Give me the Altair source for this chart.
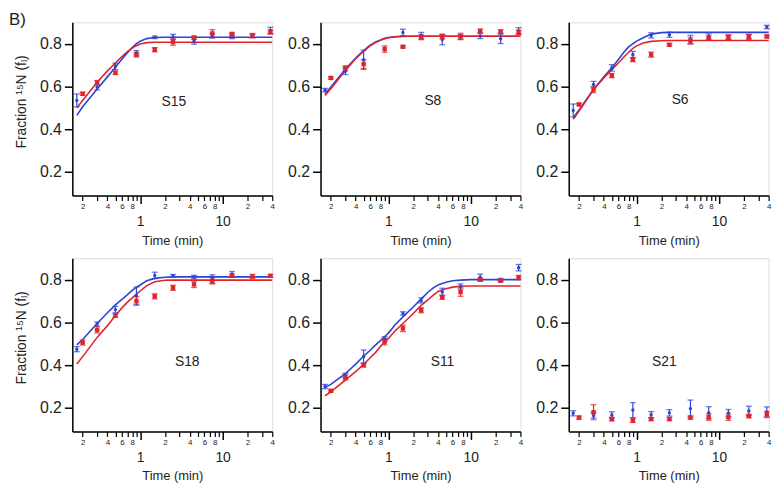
import altair as alt
import pandas as pd

BLUE = "#2b44d6"
RED = "#e0242c"
FONT = "Liberation Sans"

# ---------------- data ----------------
T_BLUE = [0.17, 0.3, 0.5, 0.9, 1.5, 2.5, 4.5, 7.5, 13, 23, 38]
T_RED = [0.2, 0.3, 0.5, 0.9, 1.5, 2.5, 4.5, 7.5, 13, 23, 38]
T_FIT = [0.17, 0.2, 0.3, 0.4, 0.5, 0.6, 0.7, 0.8, 0.9, 1.0, 1.2, 1.5, 2, 2.5, 3, 3.5, 4, 5, 6, 7.5, 10, 20, 40]

S15_BLUE = [0.535, 0.596, 0.694, 0.758, 0.830, 0.832, 0.813, 0.836, 0.834, 0.836, 0.862]
S15_BLUE_ERR = [0.03, 0.012, 0.015, 0.01, 0.006, 0.012, 0.015, 0.01, 0.01, 0.008, 0.015]
S15_RED = [0.566, 0.618, 0.664, 0.748, 0.772, 0.808, 0.828, 0.848, 0.845, 0.838, 0.855]
S15_RED_ERR = [0.007, 0.01, 0.008, 0.01, 0.01, 0.015, 0.008, 0.018, 0.008, 0.01, 0.01]
S15_FIT_BLUE = [0.465, 0.505, 0.588, 0.645, 0.69, 0.728, 0.758, 0.782, 0.800, 0.812, 0.824, 0.829, 0.83, 0.83, 0.83, 0.83, 0.83, 0.83, 0.83, 0.83, 0.83, 0.83, 0.83]
S15_FIT_RED = [0.50, 0.535, 0.62, 0.673, 0.71, 0.74, 0.763, 0.78, 0.791, 0.799, 0.805, 0.807, 0.807, 0.807, 0.807, 0.807, 0.807, 0.807, 0.807, 0.807, 0.807, 0.807, 0.807]

S8_BLUE = [0.583, 0.671, 0.725, None, 0.853, 0.838, 0.82, 0.832, 0.836, 0.823, 0.86]
S8_BLUE_ERR = [0.008, 0.015, 0.045, None, 0.015, 0.015, 0.025, 0.01, 0.012, 0.022, 0.015]
S8_RED = [0.640, 0.685, 0.705, 0.775, 0.786, 0.831, 0.833, 0.834, 0.86, 0.857, 0.853]
S8_RED_ERR = [0.006, 0.012, 0.02, 0.015, 0.005, 0.012, 0.01, 0.015, 0.008, 0.008, 0.01]
S8_FIT_BLUE = [0.565, 0.597, 0.68, 0.733, 0.768, 0.793, 0.808, 0.818, 0.825, 0.829, 0.833, 0.835, 0.835, 0.835, 0.835, 0.835, 0.835, 0.835, 0.835, 0.835, 0.835, 0.835, 0.835]
S8_FIT_RED = [0.558, 0.59, 0.675, 0.73, 0.765, 0.79, 0.806, 0.816, 0.823, 0.828, 0.832, 0.834, 0.835, 0.835, 0.835, 0.835, 0.835, 0.835, 0.835, 0.835, 0.835, 0.835, 0.835]

S6_BLUE = [0.488, 0.609, 0.687, 0.749, 0.839, 0.842, 0.819, 0.834, 0.831, 0.834, 0.878]
S6_BLUE_ERR = [0.03, 0.015, 0.015, 0.015, 0.012, 0.012, 0.02, 0.012, 0.01, 0.01, 0.008]
S6_RED = [0.516, 0.586, 0.651, 0.726, 0.749, 0.795, 0.814, 0.826, 0.831, 0.831, 0.834]
S6_RED_ERR = [0.005, 0.015, 0.01, 0.01, 0.012, 0.006, 0.015, 0.01, 0.01, 0.012, 0.006]
S6_FIT_BLUE = [0.454, 0.49, 0.586, 0.645, 0.687, 0.726, 0.76, 0.785, 0.80, 0.812, 0.828, 0.845, 0.852, 0.853, 0.853, 0.853, 0.853, 0.853, 0.853, 0.853, 0.853, 0.853, 0.853]
S6_FIT_RED = [0.446, 0.485, 0.586, 0.64, 0.679, 0.71, 0.738, 0.76, 0.778, 0.79, 0.803, 0.811, 0.814, 0.815, 0.815, 0.815, 0.815, 0.815, 0.815, 0.815, 0.815, 0.815, 0.815]

S18_BLUE = [0.475, 0.592, 0.66, 0.725, 0.82, 0.818, 0.812, 0.803, 0.826, None, None]
S18_BLUE_ERR = [0.012, 0.01, 0.015, 0.04, 0.015, 0.006, 0.008, 0.02, 0.012, None, None]
S18_RED = [0.506, 0.565, 0.632, 0.70, 0.722, 0.762, 0.778, 0.795, 0.818, 0.815, 0.818]
S18_RED_ERR = [0.012, 0.015, 0.008, 0.02, 0.012, 0.012, 0.015, 0.015, 0.008, 0.01, 0.006]
S18_FIT_BLUE = [0.495, 0.52, 0.595, 0.645, 0.682, 0.708, 0.73, 0.75, 0.765, 0.775, 0.795, 0.806, 0.811, 0.813, 0.813, 0.813, 0.813, 0.813, 0.813, 0.813, 0.813, 0.813, 0.813]
S18_FIT_RED = [0.406, 0.44, 0.53, 0.585, 0.632, 0.668, 0.695, 0.715, 0.732, 0.747, 0.772, 0.79, 0.797, 0.798, 0.798, 0.798, 0.798, 0.798, 0.798, 0.798, 0.798, 0.798, 0.798]

S11_BLUE = [0.30, 0.352, 0.441, 0.523, 0.642, 0.703, 0.742, 0.768, 0.811, 0.80, 0.856]
S11_BLUE_ERR = [0.01, 0.01, 0.03, 0.01, 0.008, 0.012, 0.018, 0.012, 0.015, 0.006, 0.015]
S11_RED = [0.28, 0.342, 0.40, 0.51, 0.572, 0.657, 0.718, 0.742, 0.80, 0.795, 0.81]
S11_RED_ERR = [0.006, 0.012, 0.008, 0.015, 0.015, 0.012, 0.01, 0.02, 0.008, 0.005, 0.01]
S11_FIT_BLUE = [0.295, 0.31, 0.36, 0.405, 0.442, 0.47, 0.495, 0.515, 0.534, 0.55, 0.588, 0.626, 0.672, 0.71, 0.74, 0.762, 0.775, 0.788, 0.795, 0.798, 0.80, 0.80, 0.80]
S11_FIT_RED = [0.257, 0.275, 0.33, 0.37, 0.403, 0.435, 0.46, 0.487, 0.51, 0.525, 0.56, 0.595, 0.642, 0.68, 0.705, 0.728, 0.745, 0.758, 0.765, 0.769, 0.77, 0.77, 0.77]

S21_BLUE = [0.175, 0.165, 0.167, 0.19, 0.168, 0.177, 0.197, 0.178, 0.176, 0.186, 0.18]
S21_BLUE_ERR = [0.012, 0.012, 0.015, 0.035, 0.015, 0.015, 0.04, 0.028, 0.017, 0.022, 0.025]
S21_RED = [0.155, 0.18, 0.148, 0.142, 0.148, 0.148, 0.155, 0.157, 0.157, 0.162, 0.172]
S21_RED_ERR = [0.007, 0.035, 0.008, 0.01, 0.007, 0.007, 0.008, 0.015, 0.015, 0.008, 0.012]

PANEL_NAMES = ["S15", "S8", "S6", "S18", "S11", "S21"]
LABEL_T = [2.56, 3.46, 3.37, 3.72, 4.53, 2.17]
LABEL_V = [0.526, 0.532, 0.537, 0.417, 0.417, 0.417]

MINOR_TICKS = [0.2, 0.3, 0.4, 0.5, 0.6, 0.7, 0.8, 0.9, 2, 3, 4, 5, 6, 7, 8, 9, 20, 30, 40]
MAJOR_TICKS = [1, 10]
Y_TICKS = [0.2, 0.4, 0.6, 0.8]
Y_TITLE = "Fraction ¹⁵N (fₗ)"

W, H = 202, 175

xscale = alt.Scale(type="log", domain=[0.15, 40], nice=False)
yscale = alt.Scale(domain=[0.09, 0.9], nice=False, zero=False)
cscale = alt.Scale(domain=["b", "r"], range=[BLUE, RED])

MANT = "(datum.value < 1 ? round(datum.value*10) : datum.value < 10 ? round(datum.value) : round(datum.value/10))"
minor_axis = alt.Axis(
    values=MINOR_TICKS, orient="bottom", labelExpr=f"{MANT} % 2 == 0 ? '' + {MANT} : ''",
    tickSize=5, tickWidth=1.2, labelFontSize=8, labelPadding=2, title=None, grid=False,
    domain=True, domainWidth=1.5, domainColor="black", tickColor="black",
    labelOverlap=False, labelFlush=False, labelColor="#222",
)
major_axis = alt.Axis(
    values=MAJOR_TICKS, orient="bottom", labelExpr="datum.value == 1 ? '1' : '10'",
    tickSize=8, tickWidth=1.5, labelFontSize=14, labelPadding=11, title="Time (min)",
    titleFontSize=13, titleFontWeight="normal", titlePadding=6, grid=False,
    domain=False, tickColor="black", labelOverlap=False, labelFlush=False, labelColor="#222",
)


def y_axis(left):
    kw = dict(values=Y_TICKS, format=".1f", tickSize=8, tickWidth=1.5, labelFontSize=16,
              labelPadding=3, grid=False, domainWidth=1.5, domainColor="black", tickColor="black",
              minExtent=36, maxExtent=36, labelColor="#222")
    if left:
        kw.update(title=Y_TITLE, titleFontSize=14, titleFontWeight="normal", titlePadding=8,
                  titleY=80, titleAlign="center")
    else:
        kw.update(title=None)
    return alt.Axis(**kw)


def panel(i, blue, blue_err, red, red_err, fit_blue, fit_red):
    left = i % 3 == 0
    yax = y_axis(left)
    rows = []
    for t, v, e in zip(T_BLUE, blue, blue_err):
        if v is not None:
            rows.append({"t": t, "v": v, "lo": v - e, "hi": v + e, "s": "b"})
    for t, v, e in zip(T_RED, red, red_err):
        if v is not None:
            rows.append({"t": t, "v": v, "lo": v - e, "hi": v + e, "s": "r"})
    pts = pd.DataFrame(rows)

    col = alt.Color("s:N", scale=cscale, legend=None)
    xn = alt.X("t:Q", scale=xscale, axis=None)

    layers = []
    # carrier of the major x axis
    layers.append(alt.Chart(pts).mark_point(opacity=0).encode(
        x=alt.X("t:Q", scale=xscale, axis=major_axis),
        y=alt.Y("v:Q", scale=yscale, axis=yax)))
    if fit_blue:
        fits = pd.DataFrame(
            [{"t": t, "v": v, "s": "b"} for t, v in zip(T_FIT, fit_blue)] +
            [{"t": t, "v": v, "s": "r"} for t, v in zip(T_FIT, fit_red)])
        layers.append(alt.Chart(fits).mark_line(strokeWidth=1.6).encode(
            x=xn, y=alt.Y("v:Q", scale=yscale, axis=yax), color=col))
    layers.append(alt.Chart(pts).mark_rule(strokeWidth=1.2).encode(
        x=xn, y=alt.Y("lo:Q", scale=yscale, axis=yax), y2="hi:Q", color=col))
    for f in ["lo", "hi"]:
        layers.append(alt.Chart(pts).mark_tick(orient="horizontal", size=6, thickness=1.3).encode(
            x=xn, y=alt.Y(f"{f}:Q", scale=yscale, axis=yax), color=col))
    layers.append(alt.Chart(pts).mark_point(filled=True, opacity=1).encode(
        x=alt.X("t:Q", scale=xscale, axis=minor_axis),
        y=alt.Y("v:Q", scale=yscale, axis=yax), color=col,
        shape=alt.Shape("s:N", scale=alt.Scale(domain=["b", "r"], range=["circle", "square"]), legend=None),
        size=alt.Size("s:N", scale=alt.Scale(domain=["b", "r"], range=[12, 20]), legend=None)))
    lab = pd.DataFrame({"t": [LABEL_T[i]], "v": [LABEL_V[i]], "name": [PANEL_NAMES[i]]})
    layers.append(alt.Chart(lab).mark_text(fontSize=14, color="#222", align="center", baseline="middle").encode(
        x=xn, y=alt.Y("v:Q", scale=yscale, axis=yax), text="name:N"))
    if i == 0:
        layers.append(alt.Chart(pd.DataFrame({"txt": ["B)"]})).mark_text(
            fontSize=17, color="#222", align="left", baseline="top").encode(
            x=alt.value(-64), y=alt.value(-10), text="txt:N"))
    return alt.layer(*layers).resolve_axis(x="independent").properties(width=W, height=H)


p = [
    panel(0, S15_BLUE, S15_BLUE_ERR, S15_RED, S15_RED_ERR, S15_FIT_BLUE, S15_FIT_RED),
    panel(1, S8_BLUE, S8_BLUE_ERR, S8_RED, S8_RED_ERR, S8_FIT_BLUE, S8_FIT_RED),
    panel(2, S6_BLUE, S6_BLUE_ERR, S6_RED, S6_RED_ERR, S6_FIT_BLUE, S6_FIT_RED),
    panel(3, S18_BLUE, S18_BLUE_ERR, S18_RED, S18_RED_ERR, S18_FIT_BLUE, S18_FIT_RED),
    panel(4, S11_BLUE, S11_BLUE_ERR, S11_RED, S11_RED_ERR, S11_FIT_BLUE, S11_FIT_RED),
    panel(5, S21_BLUE, S21_BLUE_ERR, S21_RED, S21_RED_ERR, [], []),
]

chart = alt.concat(*p, columns=3, spacing={"row": 63.4, "column": 48.8}, bounds="flush").properties(
    padding={"left": 0, "top": 0, "right": 0, "bottom": 0}
).configure_view(stroke=None).configure(font=FONT).configure_axis(
    labelFont=FONT, titleFont=FONT, titleColor="#222"
)

chart.save("out.html", embed_options={"renderer": "svg", "actions": False})
